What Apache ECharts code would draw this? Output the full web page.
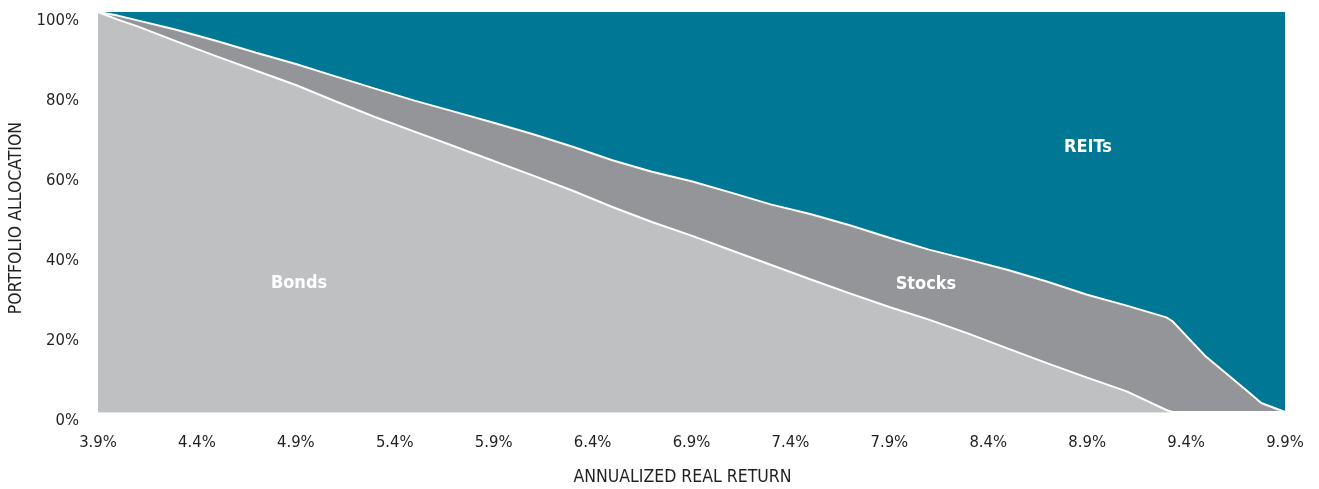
<!DOCTYPE html>
<html>
<head>
<meta charset="utf-8">
<script src="https://cdn.jsdelivr.net/npm/echarts@6/dist/echarts.min.js"></script>
<style>
  html, body { margin: 0; padding: 0; background: #fff; }
  #chart { width: 1319px; height: 489px; }
</style>
</head>
<body>
<div id="chart"></div>
<script>
// Annualized real return (%) at each sampled point
const returns = [3.9, 4.0, 4.1, 4.3, 4.5, 4.7, 4.9, 5.1, 5.3, 5.5, 5.7, 5.9, 6.1, 6.3, 6.5, 6.7, 6.9, 7.1, 7.3, 7.5, 7.7, 7.9, 8.1, 8.3, 8.5, 8.7, 8.9, 9.1, 9.3, 9.33, 9.5, 9.7, 9.78, 9.9];
// Portfolio allocation (%)
const bonds  = [100, 98.1, 96.4, 92.6, 88.9, 85.3, 81.75, 77.7, 73.75, 70.1, 66.45, 62.75, 59.1, 55.3, 51.25, 47.5, 44.1, 40.45, 36.8, 33.2, 29.65, 26.25, 23.1, 19.6, 15.85, 12.15, 8.6, 5.15, 0.5, 0, 0, 0, 0, 0];
const stocks = [0, 1.0, 1.5, 2.9, 3.85, 4.5, 5.25, 6.2, 7.1, 7.75, 8.65, 9.55, 10.35, 11.0, 11.7, 12.55, 13.6, 14.4, 15.1, 16.3, 17.05, 17.3, 17.5, 18.5, 19.65, 20.4, 20.7, 21.45, 23.15, 22.75, 13.85, 5.6, 2.25, 0];
const reits  = [0, 0.9, 2.1, 4.5, 7.25, 10.2, 13.0, 16.1, 19.15, 22.15, 24.9, 27.7, 30.55, 33.7, 37.05, 39.95, 42.3, 45.15, 48.1, 50.5, 53.3, 56.45, 59.4, 61.9, 64.5, 67.45, 70.7, 73.4, 76.35, 77.25, 86.15, 94.4, 97.75, 100];
const xTicks = [3.9, 4.4, 4.9, 5.4, 5.9, 6.4, 6.9, 7.4, 7.9, 8.4, 8.9, 9.4, 9.9];
const yTicks = [0, 20, 40, 60, 80, 100];
// Label anchor positions in data space [return, allocation]
const labelPos = { Bonds: [4.916, 32.25], Stocks: [8.085, 32], REITs: [8.904, 66.25] };

const FONT = "'Liberation Sans Narrow', 'DejaVu Sans Condensed', 'Roboto', sans-serif";
const TXT = '#231f20';

// cumulative tops for drawing (bottom layer drawn last)
const cumStocks = returns.map((r, i) => +(bonds[i] + stocks[i]).toFixed(2));
const cumReits = returns.map((r, i) => +(bonds[i] + stocks[i] + reits[i]).toFixed(2));

function pairs(vals) { return returns.map((r, i) => [r, vals[i]]); }
function mark(name) {
  return {
    symbol: 'circle', symbolSize: 0, silent: true,
    label: { show: true, position: 'inside', formatter: name, color: '#fff',
      fontFamily: FONT, fontWeight: 'bold', fontSize: 18 },
    data: [{ coord: labelPos[name] }]
  };
}

const chart = echarts.init(document.getElementById('chart'), null, { renderer: 'canvas' });
chart.setOption({
  animation: false,
  grid: { left: 98, right: 34, top: 12, bottom: 77, containLabel: false, outerBoundsMode: 'none' },
  xAxis: {
    type: 'value', min: 3.9, max: 9.9,
    name: 'ANNUALIZED REAL RETURN', nameLocation: 'middle', nameGap: 56,
    nameTextStyle: { fontFamily: FONT, fontSize: 17.5, color: TXT, padding: [0, 18, 0, 0] },
    axisLine: { show: true, lineStyle: { color: '#e3e3e3', width: 1 } },
    axisTick: { show: false },
    splitLine: { show: false },
    axisLabel: { customValues: xTicks, formatter: v => v.toFixed(1) + '%', margin: 22,
      fontFamily: FONT, fontSize: 16.5, color: TXT }
  },
  yAxis: {
    type: 'value', min: 0, max: 100, interval: 20,
    name: 'PORTFOLIO ALLOCATION', nameLocation: 'middle', nameGap: 67, nameRotate: 90,
    nameTextStyle: { fontFamily: FONT, fontSize: 17.5, color: TXT, padding: [0, 12, 0, 0] },
    axisLine: { show: false }, axisTick: { show: false }, splitLine: { show: false },
    axisLabel: { customValues: yTicks, formatter: v => v + '%', margin: 19, verticalAlign: 'top',
      fontFamily: FONT, fontSize: 16.5, color: TXT }
  },
  series: [
    { name: 'REITs', type: 'line', data: pairs(cumReits), symbol: 'none',
      lineStyle: { width: 0 }, areaStyle: { color: '#007794', opacity: 1 }, markPoint: mark('REITs') },
    { name: 'Stocks', type: 'line', data: pairs(cumStocks), symbol: 'none',
      lineStyle: { width: 2, color: '#fff' }, areaStyle: { color: '#939598', opacity: 1 }, markPoint: mark('Stocks') },
    { name: 'Bonds', type: 'line', data: pairs(bonds), symbol: 'none',
      lineStyle: { width: 2, color: '#fff' }, areaStyle: { color: '#bfc0c2', opacity: 1 }, markPoint: mark('Bonds') }
  ]
});
</script>
</body>
</html>
